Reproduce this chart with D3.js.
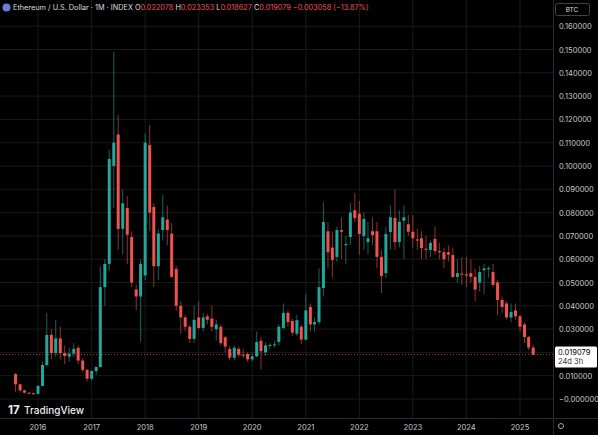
<!DOCTYPE html>
<html>
<head>
<meta charset="utf-8">
<script src="https://cdn.jsdelivr.net/npm/d3@7"></script>
<style>
  body { margin: 0; background: #000; }
  svg { display: block; font-family: "Inter", "Noto Sans", sans-serif; }
</style>
</head>
<body>
<svg id="chart" width="598" height="435"></svg>
<script>
// monthly candles, Aug 2015 .. Apr 2025 (ETH/BTC)
const startMonth = new Date(2015, 7, 1);
const opens = [
  .0107,.0063,.0037,.0027,.0025,
  .0022,.0056,.0146,.0275,.0197,.0260,.0197,.0182,.0195,.0220,.0165,.0125,
  .0087,.0120,.0137,.0480,.0580,.1000,.1135,.0730,.0820,.0695,.0470,.0440,
  .0530,.1090,.0824,.0570,.0725,.0770,.0710,.0558,.0400,.0350,.0310,.0258,
  .0350,.0305,.0355,.0345,.0300,.0310,.0265,.0215,.0177,.0215,.0190,.0193,
  .0170,.0183,.0250,.0200,.0228,.0232,.0245,.0305,.0370,.0335,.0280,.0310,
  .0255,.0395,.0320,.0330,.0476,.0720,.0650,.0610,.0725,.0660,.0695,.0810,
  .0795,.0700,.0673,.0720,.0720,.0610,.0540,.0717,.0777,.0673,.0765,.0750,
  .0718,.0685,.0690,.0645,.0640,.0687,.0635,.0630,.0630,.0618,.0524,.0538,
  .0535,.0540,.0524,.0500,.0553,.0560,.0545,.0500,.0425,.0410,.0350,.0380,
  .0355,.0320,.0266,.022078
];
const highs = [
  .0112,.0066,.0040,.0030,.0028,
  .0060,.0160,.0370,.0300,.0340,.0310,.0230,.0220,.0240,.0230,.0175,.0130,
  .0125,.0140,.0570,.0600,.1070,.1490,.1220,.0900,.0870,.0720,.0490,.0600,
  .1140,.1176,.0840,.0730,.0875,.0830,.0755,.0570,.0420,.0360,.0320,.0400,
  .0420,.0370,.0365,.0400,.0340,.0320,.0270,.0230,.0230,.0225,.0215,.0200,
  .0200,.0290,.0265,.0245,.0240,.0250,.0320,.0410,.0380,.0345,.0360,.0320,
  .0450,.0410,.0350,.0560,.0845,.0760,.0720,.0740,.0780,.0700,.0840,.0885,
  .0850,.0800,.0760,.0780,.0760,.0640,.0740,.0830,.0900,.0810,.0830,.0790,
  .0790,.0730,.0720,.0700,.0680,.0740,.0670,.0650,.0660,.0650,.0600,.0610,
  .0610,.0600,.0560,.0570,.0580,.0570,.0580,.0510,.0440,.0420,.0410,.0410,
  .0360,.0330,.0270,.023353
];
const lows = [
  .0030,.0028,.0024,.0022,.0020,
  .0020,.0054,.0140,.0170,.0180,.0170,.0150,.0160,.0180,.0150,.0115,.0075,
  .0080,.0105,.0135,.0400,.0550,.0820,.0640,.0620,.0580,.0480,.0380,.0245,
  .0510,.0720,.0480,.0510,.0680,.0660,.0520,.0380,.0280,.0290,.0240,.0240,
  .0300,.0290,.0320,.0290,.0250,.0230,.0200,.0165,.0165,.0180,.0175,.0160,
  .0160,.0180,.0126,.0185,.0215,.0222,.0230,.0300,.0310,.0270,.0270,.0235,
  .0250,.0290,.0290,.0320,.0440,.0560,.0520,.0590,.0600,.0580,.0660,.0760,
  .0620,.0640,.0620,.0660,.0560,.0455,.0520,.0640,.0640,.0650,.0600,.0700,
  .0650,.0640,.0600,.0600,.0610,.0620,.0600,.0560,.0590,.0520,.0500,.0490,
  .0480,.0500,.0420,.0460,.0450,.0520,.0480,.0360,.0370,.0340,.0330,.0340,
  .0290,.0240,.0210,.018627
];
const closes = [
  .0063,.0037,.0027,.0025,.0022,
  .0056,.0146,.0275,.0197,.0260,.0197,.0185,.0195,.0215,.0165,.0125,.0087,
  .0120,.0137,.0480,.0580,.1030,.1100,.0730,.0840,.0705,.0500,.0440,.0580,
  .1100,.0800,.0570,.0710,.0780,.0725,.0524,.0400,.0350,.0310,.0258,.0340,
  .0305,.0350,.0340,.0310,.0320,.0240,.0225,.0177,.0220,.0190,.0188,.0170,
  .0183,.0245,.0205,.0230,.0232,.0235,.0310,.0370,.0330,.0285,.0338,.0255,
  .0380,.0320,.0330,.0480,.0760,.0630,.0597,.0725,.0718,.0665,.0800,.0777,
  .0708,.0773,.0690,.0704,.0610,.0528,.0708,.0780,.0673,.0760,.0780,.0718,
  .0690,.0680,.0648,.0640,.0670,.0635,.0630,.0600,.0620,.0524,.0540,.0535,
  .0530,.0524,.0470,.0545,.0560,.0562,.0490,.0425,.0395,.0350,.0373,.0355,
  .0310,.0266,.0221,.019079
];
const yTicks = [0,.01,.02,.03,.04,.05,.06,.07,.08,.09,.10,.11,.12,.13,.14,.15,.16];

const candles = opens.map((o, i) => ({
  date: d3.timeMonth.offset(startMonth, i),
  o: o, h: highs[i], l: lows[i], c: closes[i]
}));

const up = "#26a69a", down = "#ef5350";
const svg = d3.select("#chart");
const plotRight = 553, plotBottom = 418;

let x = d3.scaleTime()
  .domain([new Date(2016, 0, 1), new Date(2025, 0, 1)])
  .range([38, 520]);
let y = d3.scaleLinear().domain([0, 0.16]).range([399, 26.2]);

// gridlines
svg.append("g").selectAll("line").data(yTicks).join("line")
  .attr("x1", 0).attr("x2", plotRight)
  .attr("y1", d => y(d)).attr("y2", d => y(d))
  .attr("stroke", "#1a1a1a");
let years = d3.timeYear.range(new Date(2016, 0, 1), new Date(2025, 1, 1));
svg.append("g").selectAll("line").data(years).join("line")
  .attr("x1", d => x(d)).attr("x2", d => x(d))
  .attr("y1", 0).attr("y2", plotBottom)
  .attr("stroke", "#1a1a1a");

// candles
let g = svg.append("g");
g.selectAll("line.wick").data(candles).join("line")
  .attr("x1", d => x(d.date)).attr("x2", d => x(d.date))
  .attr("y1", d => y(d.h)).attr("y2", d => y(d.l))
  .attr("stroke", d => d.c >= d.o ? up : down)
  .attr("stroke-opacity", 0.75)
  .attr("stroke-width", 0.8);
g.selectAll("rect").data(candles).join("rect")
  .attr("x", d => x(d.date) - 1.5)
  .attr("width", 3)
  .attr("y", d => y(Math.max(d.o, d.c)))
  .attr("height", d => Math.max(1, Math.abs(y(d.o) - y(d.c))))
  .attr("fill", d => d.c >= d.o ? up : down);

// last price line
let last = candles[candles.length - 1];
svg.append("line")
  .attr("x1", 0).attr("x2", plotRight)
  .attr("y1", y(last.c)).attr("y2", y(last.c))
  .attr("stroke", down).attr("stroke-dasharray", "1,2").attr("stroke-opacity", 0.7);

// axes borders
svg.append("line").attr("x1", plotRight + 0.5).attr("x2", plotRight + 0.5)
  .attr("y1", 0).attr("y2", 435).attr("stroke", "#2a2a2a");
svg.append("line").attr("x1", 0).attr("x2", 598)
  .attr("y1", plotBottom + 0.5).attr("y2", plotBottom + 0.5).attr("stroke", "#2a2a2a");

// y axis labels
svg.append("g").selectAll("text").data(yTicks.filter(d => d !== .02)).join("text")
  .attr("x", 559).attr("y", d => y(d) + 3)
  .attr("fill", "#c8c8c8").attr("font-size", 7.5)
  .text(d => (d === 0 ? "\u22120.000000" : d.toFixed(6)));

// x axis labels
svg.append("g").selectAll("text").data(years).join("text")
  .attr("x", d => x(d)).attr("y", 430)
  .attr("text-anchor", "middle")
  .attr("fill", "#c8c8c8").attr("font-size", 7.5)
  .text(d => d3.timeFormat("%Y")(d));

// price label
let pl = svg.append("g").attr("transform", `translate(555,${y(last.c) - 8})`);
pl.append("rect").attr("width", 42).attr("height", 21).attr("rx", 1.5).attr("fill", "#fff");
pl.append("text").attr("x", 3).attr("y", 8.5).attr("font-size", 7.5).attr("fill", "#000")
  .text(last.c.toFixed(6));
pl.append("text").attr("x", 3).attr("y", 17.5).attr("font-size", 7.5).attr("fill", "#333")
  .text("24d 3h");

// BTC button
svg.append("rect").attr("x", 555.5).attr("y", 3.5).attr("width", 34).attr("height", 12)
  .attr("rx", 2).attr("fill", "none").attr("stroke", "#444");
svg.append("text").attr("x", 572).attr("y", 12).attr("text-anchor", "middle")
  .attr("fill", "#ddd").attr("font-size", 6.5).text("BTC");

// gear icon
svg.append("circle").attr("cx", 561).attr("cy", 426).attr("r", 2.5)
  .attr("fill", "none").attr("stroke", "#aaa").attr("stroke-width", 1);

// header
svg.append("circle").attr("cx", 6.5).attr("cy", 7.5).attr("r", 4).attr("fill", "#6a7bd8");
let hdr = svg.append("text").attr("x", 13).attr("y", 10).attr("font-size", 7.3);
hdr.append("tspan").attr("fill", "#ddd").text("Ethereum / U.S. Dollar \u00b7 1M \u00b7 INDEX  ");
[["O", last.o.toFixed(6)], ["H", last.h.toFixed(6)], ["L", last.l.toFixed(6)], ["C", last.c.toFixed(6)]]
  .forEach(([k, v]) => {
    hdr.append("tspan").attr("fill", "#ddd").text(" " + k);
    hdr.append("tspan").attr("fill", down).text(v);
  });
hdr.append("tspan").attr("fill", down).text(" \u22120.003058 (\u221213.87%)");

// logo
svg.append("text").attr("x", 8).attr("y", 414).attr("font-size", 11.5)
  .attr("font-weight", 700).attr("fill", "#eee").text("17");
svg.append("text").attr("x", 24).attr("y", 414).attr("font-size", 10)
  .attr("font-weight", 500).attr("fill", "#eee").text("TradingView");
</script>
</body>
</html>
